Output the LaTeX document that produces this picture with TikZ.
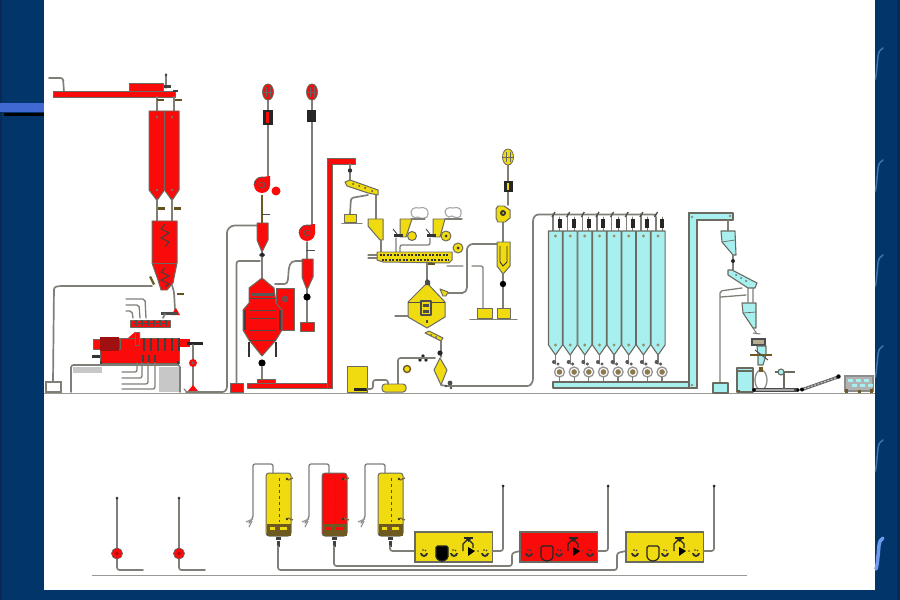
\documentclass[tikz,border=0pt]{standalone}
\usetikzlibrary{shapes.geometric,calc}
\definecolor{navy}{HTML}{02366B}
\definecolor{navyd}{HTML}{0A2A55}
\definecolor{bandblue}{HTML}{4169D2}
\definecolor{pipegray}{HTML}{7F7F78}
\definecolor{edgegray}{HTML}{6A6A60}
\definecolor{plantred}{HTML}{FB0A0A}
\definecolor{plantyel}{HTML}{F0DA10}
\definecolor{plantcya}{HTML}{A8F0F0}
\definecolor{darkred}{HTML}{A01010}
\definecolor{mud}{HTML}{6E5A20}
\definecolor{swoosh}{HTML}{3F73AD}
\definecolor{swooshb}{HTML}{6F9BEF}
\tikzset{
 pipeline/.style={draw=pipegray,line width=1.7pt,rounded corners=2.5,line cap=round},
 finepipe/.style={draw=pipegray,line width=1.3pt,rounded corners=2,line cap=round},
 floorline/.style={draw=pipegray!80,line width=1.8pt},
 redpart/.style={fill=plantred,draw=edgegray,line width=1pt,line join=round},
 yelpart/.style={fill=plantyel,draw=edgegray,line width=1pt,line join=round},
 cyapart/.style={fill=plantcya,draw=edgegray,line width=1.1pt,line join=round},
 blackpart/.style={fill=black!85},
 markpart/.style={fill=mud!90!black},
 cloudpart/.style={fill=white,draw=gray!70,line width=1.1pt},
 greypart/.style={fill=black!22},
 swooshline/.style={draw=swoosh,line width=1.5pt,line cap=round},
}
\newcommand{\hmark}[2]{\fill[markpart] (#1-3.5,#2-1.2) rectangle (#1+3.5,#2+1.2);}
\newcommand{\tinyarc}[2]{\fill[black!80] (#1-4,#2+2) arc[start angle=180,end angle=0,radius=4] -- (#1+2,#2+2) arc[start angle=0,end angle=180,radius=2] -- cycle; \fill[black!80] (#1-1,#2-1) circle (.8); \fill[black!80] (#1+1.5,#2-.5) circle (.8);}
\newcommand{\fanunit}[3]{\draw[fill=#3,draw=edgegray,line width=.8pt] (#1,#2) ellipse (5.5 and 8); \draw[black!60,line width=.6pt] (#1-2,#2-5)--(#1-2,#2+5) (#1+2,#2-5)--(#1+2,#2+5) (#1-5,#2)--(#1+5,#2);}
\newcommand{\redfan}[2]{\fill[plantred] (#1,#2) circle (8); \fill[plantred] (#1,#2-8) -- (#1+8,#2-9) -- (#1+8,#2) -- cycle; \draw[black!65,line width=.8pt] (#1,#2) circle (3) (#1-8,#2) arc[start angle=180,end angle=300,radius=8];}
\begin{document}
\begin{tikzpicture}[x=1bp,y=-1bp]
\useasboundingbox (0,0) rectangle (900,600);
% frame
\fill[navy] (0,0) rectangle (900,600);
\fill[navyd] (0,0) rectangle (2,600);
\fill[navyd] (897,0) rectangle (900,600);
\fill[white] (43.5,0) rectangle (875,590);
\fill[bandblue] (0,103) rectangle (43.5,112);
\fill[black] (4,113) rectangle (43.5,116);
\foreach \yy in {48,160,255,346,440}{
 \draw[swooshline] (883,\yy) .. controls (877,\yy+2) and (878,\yy+12) .. (877,\yy+18) .. controls (876.5,\yy+24) and (876,\yy+28) .. (875.5,\yy+31);
}
\draw[swooshb,line width=3.5pt,line cap=round] (883,538) .. controls (878,540) and (879,550) .. (878,556) .. controls (877.5,562) and (877,566) .. (876,569);
% floors
\draw[floorline] (44,393.5) -- (875,393.5);
\draw[floorline] (92,575.5) -- (747,575.5);

%%%%% LEFT RED LINE
\draw[pipeline] (49,78) -- (63,78) -- (64,92);
\draw[redpart] (53,92) rectangle (175,97);
\draw[redpart] (129,84) rectangle (163,92);
\draw[finepipe] (166,74) -- (166,88);
\fill[black!75] (166,75) circle (1.4);
\fill[black!75] (164,85) rectangle (171,88);
\fill[black!75] (173,90) rectangle (178,92);
\draw[pipeline] (157,97) -- (157,111) (174,97) -- (174,111);
\hmark{160}{100}\hmark{178}{100}
\draw[redpart] (149,111) -- (164.5,111) -- (164.5,190) -- (157,200.5) -- (149,190) -- cycle;
\draw[redpart] (164.5,111) -- (179,111) -- (179,190) -- (172,200.5) -- (164.5,190) -- cycle;
\foreach \xx in {157,172}{\fill[black!55] (\xx,117) circle (1.4); \fill[black!55] (\xx,190) circle (1.4);}
\draw[pipeline] (157,200) -- (157,221) (172,200) -- (172,221);
\hmark{161}{208.5}\hmark{177}{208.5}
\draw[redpart] (152,221) -- (177,221) -- (177,263) -- (173,283) -- (167,290) -- (161,290) -- (158,280) -- (152,263) -- cycle;
\draw[edgegray,line width=.8pt] (152,263) -- (177,263);
\draw[black!75,line width=1pt] (165,224) -- (161,229) -- (169,233) -- (161,238) -- (169,242) -- (165,247) (165,268) -- (161,272) -- (169,276) -- (161,280) -- (169,284) -- (165,287);
\draw[pipeline] (152,286) -- (60,286) -- (54,287) -- (53,382);
\fill[mud] (149,277) -- (151,276) -- (155,284) -- (153,285) -- cycle;
\draw[fill=white,draw=pipegray,line width=1.3pt] (46,382) rectangle (61,392);
\draw[pipeline] (172,285) -- (174,292) -- (175,310);
\hmark{180}{294}
\fill[plantred] (171,315) -- (176,308) -- (180,315) -- cycle;
\fill[black!70] (161,312) rectangle (178,315);
% feed screw
\draw[finepipe] (126,299) -- (145,299) -- (146,318) (126,305) -- (139,305) -- (140,318) (126,311) -- (132,311) -- (133,318);
\draw[redpart] (130,320) rectangle (170,327);
\draw[black!70,line width=1pt] (133,323.5) -- (168,323.5);
\foreach \xx in {135,141,...,165}{\fill[black!70] (\xx,320) rectangle (\xx+1.5,326);}
\draw[pipeline] (163,318) -- (165,314);
% extruder
\draw[redpart] (100,338) rectangle (179,363);
\fill[plantred] (128,338) -- (135,332) -- (140,332) -- (140,338) -- cycle;
\draw[redpart] (135,332) rectangle (139,345);
\draw[redpart] (93,339) rectangle (120,349);
\fill[darkred] (100,337) rectangle (119,351);
\fill[plantred] (177,339) rectangle (190,347);
\fill[black!80] (92,355) rectangle (100,358);
\foreach \xx in {143,150,...,178}{\fill[black!75] (\xx,338) rectangle (\xx+2.3,351);}
\foreach \xx in {142,148,154}{\fill[black!75] (\xx,355) rectangle (\xx+1.8,362);}
\fill[black!85] (187,342) rectangle (203,345);
\fill[black!75] (100,361) rectangle (102,365);
\fill[black!75] (177,361) rectangle (179,365);
\draw[finepipe] (122,372) -- (137,372) -- (137,363) (122,378) -- (142,378) -- (142,363) (122,384) -- (148,384) -- (148,363) (122,389) -- (155,389) -- (155,363);
% base
\fill[greypart] (73,367) rectangle (102,373);
\fill[greypart] (159,367) rectangle (179,392);
\draw[pipeline] (71,392) -- (71,365) -- (180,365) -- (180,392);
% right pipe
\draw[pipeline] (193,345) -- (193,386);
\fill[plantred] (193,363) circle (4); \fill[black!60] (193,363) circle (1.6);
\fill[plantred] (188,391) -- (193,385) -- (198,391) -- cycle;
\draw[finepipe] (184,389) -- (186,391);

%%%%% MIDDLE RED LINE
\draw[pipeline] (186,392) -- (220,392) .. controls (226,392) and (227,388) .. (227,384) -- (227,235) .. controls (227,229) and (231,225.5) .. (237,225.5) -- (257,225.5);
\draw[pipeline] (236.5,384) -- (236.5,261) -- (260,261);
\draw[pipeline] (268,100) -- (268,176) (312,100) -- (312,226);
\fanunit{268}{92}{plantred}\fanunit{312}{92}{plantred}
\fill[blackpart] (263,110) rectangle (273,125);
\fill[blackpart] (307,110) rectangle (316,122);
\fill[plantred] (266,112) rectangle (269,123);
\redfan{262}{185}
\fill[plantred] (276,191) circle (4.5);
\draw[draw=mud,line width=1.4pt] (262,195) -- (262,224);
\draw[redpart] (257,223) -- (268,223) -- (268,240) -- (262,252) -- (257,240) -- cycle;
\draw[black!70,line width=.7pt] (261,214) -- (270,214);
\fill[blackpart] (259,255) -- (262,252) -- (265,255) -- (262,258) -- cycle;
\draw[finepipe] (262,257) -- (262,278);
% dryer
\draw[redpart] (276,288) rectangle (294,330);
\fill[black!65] (285,299) circle (3.2); \fill[plantred] (285,299) circle (1.2);
\draw[redpart] (262,278) -- (274,288) -- (276,303) -- (282,310) -- (282,330) -- (276,340) -- (262,356) -- (249,340) -- (243,330) -- (243,310) -- (249,303) -- (249,288) -- cycle;
\foreach \yy in {298,310,318,330,340}{\draw[black!70,line width=.7pt] (249,\yy) -- (276,\yy);}
\fill[black!65] (251,293) rectangle (273,296);
\fill[black!75] (244,310) rectangle (246,330);
\fill[black!75] (279,310) rectangle (281,330);
\fill[black!80] (248,342) rectangle (250,357);
\fill[black!80] (275,342) rectangle (277,357);
\fill[black] (262,363) circle (3.6);
\draw[pipeline] (262,367) -- (262,380);
\draw[pipeline] (275,284) -- (282,284) .. controls (292,284) and (284,261) .. (298,261) -- (302,261);
% cyclone 2
\redfan{307}{233}
\draw[pipeline] (307,242) -- (307,259);
\draw[black!70,line width=.7pt] (306,250) -- (315,250);
\draw[redpart] (302,259) -- (313,259) -- (313,277) -- (307,290) -- (302,277) -- cycle;
\draw[pipeline] (307,290) -- (307,322);
\fill[black] (307,297) circle (3.6);
\draw[redpart] (300,322) -- (314,322) -- (314,331) -- (300,331) -- cycle;
\draw[redpart] (230,383) rectangle (243,392);
\draw[redpart] (257,379) rectangle (275,384);
\draw[redpart] (247,383) rectangle (332,388);
\draw[redpart] (327,158) rectangle (332,388);
\draw[redpart] (327,158) rectangle (355,164);
\fill[plantred] (327.5,159) rectangle (331.5,387);
\fill[black!65] (329,162) circle (1);
\fill[black!65] (329,385) circle (1);
\fill[black!65] (250,385.5) circle (1);

%%%%% YELLOW LINE
\draw[finepipe] (350,164) -- (350,181);
\fill[black!80] (350,170.5) circle (2.2);
\draw[yelpart] (345,182) -- (350,180) -- (378,190) -- (378,195) -- (368,193) -- (347,186) -- cycle;
\foreach \xx/\yy in {353/184,359/186,365/188,372/191}{\fill[black!70] (\xx,\yy) circle (1);}
\draw[pipeline] (368,195) -- (351,198) -- (350,214);
\draw[yelpart] (344,214) rectangle (356,222);
\draw[finepipe] (342,223.5) -- (362,223.5);
\draw[pipeline] (376,195) -- (376,219);
\draw[yelpart] (368,219) -- (383,219) -- (383,240) -- (380,240) -- (368,226) -- cycle;
\draw[finepipe] (381,240) -- (381,252);
% hoppers and clouds
\draw[yelpart] (400,219) -- (412,219) -- (406,237) -- (400,237) -- cycle;
\draw[yelpart] (433,219) -- (445,219) -- (440,237) -- (433,237) -- cycle;
\fill[black!80] (394,234) rectangle (403,237);
\fill[black!80] (427,234) rectangle (436,237);
\draw[black!70,line width=.9pt] (393,229) -- (397,234) (426,229) -- (430,234);
\draw[cloudpart] (412,216) .. controls (409,208) and (415,207) .. (419,208) .. controls (425,206) and (429,210) .. (428,214) .. controls (429,219) and (420,219) .. (418,217) .. controls (416,218) and (413,218) .. (412,216) -- cycle;
\draw[cloudpart] (446,215) .. controls (443,208) and (449,207) .. (453,208) .. controls (459,206) and (462,210) .. (461,213) .. controls (462,219) and (455,218) .. (452,216) .. controls (450,218) and (447,217) .. (446,215) -- cycle;
\draw[finepipe] (411,219) -- (425,219) (445,219) -- (462,219);
\draw[yelpart] (412,236) circle (4.5);
\draw[yelpart] (446,236) circle (5); \fill[black!80] (446,236) circle (1.5);
\draw[yelpart] (458,248) circle (5); \fill[black!80] (458,248) circle (1.5);
\draw[finepipe] (396,238) -- (396,252) (400,252) -- (400,245) -- (430,245) -- (430,238);
% screw
\draw[finepipe] (368,255) -- (378,255) (368,258) -- (378,258);
\draw[yelpart] (377,252) -- (452,252) -- (452,260) -- (449,263) -- (383,262) -- (377,260) -- cycle;
\draw[black!80,line width=1.2pt,dash pattern=on 2pt off 1.5pt] (380,255) -- (449,255) (382,260) -- (449,260);
\draw[pipeline] (427,262) -- (427,283);
\hmark{431}{264}
\draw[finepipe] (447,266) -- (463,266) (472,266) -- (483,266) -- (483,308);
% cooler
\draw[yelpart] (427,283) -- (445,302) -- (445,317) -- (427,328) -- (408,317) -- (408,302) -- cycle;
\draw[yelpart] (440,289) -- (448,292) -- (446,296) -- (443,296) -- cycle;
\fill[black!70] (425,281) -- (427,279) -- (430,281) -- (430,285) -- (425,285) -- cycle;
\draw[black!70,line width=.9pt] (408,302) -- (421,302) (431,302) -- (445,302);
\draw[yelpart,draw=black!70,line width=1.2pt] (421,301) rectangle (431,315);
\fill[black!70] (423,304) rectangle (429,307);
\fill[black!70] (423,310) rectangle (429,313);
\fill[black!70] (425.5,320) rectangle (427.5,323);
\draw[finepipe] (395,316) -- (408,316);
\draw[pipeline] (448,293) -- (460,293) .. controls (465,293) and (467,290) .. (467,285) -- (467,252) .. controls (467,247) and (470,244) .. (475,244) -- (497,244);
\draw[yelpart] (425,333) -- (429,331) -- (443,338) -- (441,341) -- cycle;
\fill[black!60] (431,335) circle (1);
\fill[black!60] (436,337) circle (1);
\draw[pipeline] (441,341) -- (441,357);
\fill[black!85] (440,353) circle (2.6);
\foreach \xx/\yy in {423/356,420/360,426/360}{\fill[black!85] (\xx,\yy) circle (1.8);}
% fan and cyclone
\draw[pipeline] (508,165) -- (508,205) (503,222) -- (503,242);
\fanunit{508}{157}{plantyel}
\fill[blackpart] (504,181) rectangle (513,192);
\fill[plantyel] (507,183) rectangle (509,190);
\draw[yelpart] (498,206) -- (504,206) -- (510,210) -- (510,218) -- (505,222) -- (498,222) -- (496,218) -- (496,209) -- cycle;
\fill[black!80] (503,213) circle (3); \fill[plantyel] (503,213) circle (1);
\draw[yelpart] (497,242) -- (510,242) -- (510,266) -- (503,274) -- (497,266) -- cycle;
\draw[black!80,line width=.9pt] (500,246) -- (500,262) -- (503,266) -- (507,262) -- (507,246);
\draw[pipeline] (503,274) -- (503,308);
\fill[black] (503,284) circle (3.2);
\draw[yelpart] (477,308) rectangle (492,318);
\draw[yelpart] (497,308) rectangle (510,318);
\draw[finepipe] (470,319.5) -- (517,319.5);
% separator and bottom
\draw[pipeline] (398,385) -- (398,358) -- (435,358);
\draw[yelpart] (440,358) -- (447,370) -- (441,385) -- (434,370) -- cycle;
\draw[draw=mud,fill=plantyel,line width=1.4pt] (407,369) circle (3.5);
\draw[yelpart] (347,366) rectangle (367,392);
\fill[black!85] (354,388) rectangle (367,391);
\draw[yelpart,rounded corners=3] (382,384) rectangle (406,392);
\draw[pipeline] (367,389) -- (373,389) -- (373,380) -- (388,380) -- (388,384);
\draw[pipeline] (441,385) -- (446,386) -- (525,386) .. controls (531,386) and (533,382) .. (533,376) -- (533,224) .. controls (533,218) and (535,214.5) .. (541,214.5) -- (651,214.5) .. controls (655,214.5) and (656,216) .. (656,220) -- (656,231);
\fill[black!70] (450,383) circle (2.4);
\fill[black!70] (451,388) circle (1.4);
\fill[black!70] (446,386) circle (1.4);

%%%%% CYAN SILOS
\foreach \k in {0,...,7}{
 \pgfmathsetmacro{\xa}{548.5+14.65*\k}
 \pgfmathsetmacro{\xc}{\xa+7}
 \pgfmathsetmacro{\xb}{\xa+14}
 \pgfmathsetmacro{\xf}{\xa+11}
 \pgfmathsetmacro{\xp}{\xa+4.5}
 \draw[finepipe] (\xp,214) -- (\xp,231);
 \draw[black!70,line width=1.3pt] (\xp-1,217) -- (\xp+2,212);
 \draw[finepipe,line width=1pt] (\xf,217) -- (\xf,231);
 \fill[black!85] (\xf-2,219) rectangle (\xf+2,228);
 \draw[cyapart] (\xa,231) -- (\xb,231) -- (\xb,345) -- (\xc,355) -- (\xa,345) -- cycle;
 \fill[mud!70] (\xc,236) circle (1.6);
 \fill[mud!70] (\xc,345) circle (1.6);
 \draw[finepipe] (\xc,355) -- (\xc,364);
 \fill[black!65] (\xc-1.5,362) circle (2);
 \fill[black!65] (\xc+2.5,364) circle (1.7);
 \draw[gray!85,line width=1.3pt,fill=white] (\xc+4,372) circle (5);
 \fill[mud!80] (\xc+4,372) circle (2.8);
 \draw[finepipe] (\xc+4,377) -- (\xc+4,382);
}
\draw[cyapart] (553,382) rectangle (697,388);
\draw[cyapart] (689,213) rectangle (697,388);
\draw[cyapart] (689,213) rectangle (733,220);
\fill[plantcya] (689.6,214) rectangle (696.4,387);
\fill[black!45] (692,217) circle (1.4);
\fill[black!45] (730,216) circle (1.4);
\fill[black!45] (692,385) circle (1.4);
% right part
\draw[finepipe] (728,220) -- (728,231);
\draw[cyapart] (721,231) -- (735,231) -- (736,255) -- (733,255) -- (722,242) -- cycle;
\draw[edgegray,line width=.7pt] (722,242) -- (735,240);
\draw[finepipe] (733,255) -- (733,270);
\fill[blackpart] (733,261) circle (2);
\draw[cyapart] (728,270) -- (732,270) -- (757,283) -- (755,288) -- (748,288) -- (728,275) -- cycle;
\foreach \xx/\yy in {736/275,741/278,746/281}{\fill[black!60] (\xx,\yy) circle (1);}
\draw[finepipe] (742,288) -- (720,291) -- (720,382) (746,295) -- (721,297) (748,288) -- (748,302) (753,288) -- (753,302);
\draw[cyapart] (742,303) -- (756,303) -- (756,328) -- (753,328) -- (743,313) -- cycle;
\draw[edgegray,line width=.7pt] (743,313) -- (756,312);
\draw[finepipe,line width=1pt] (753,328) -- (757,334) (753,333) -- (760,334);
\draw[cyapart] (713,383) rectangle (728,393);
\draw[fill=mud!50,draw=black!70,line width=1.1pt] (752,339) rectangle (765,345);
\draw[cyapart] (757,346) -- (766,346) -- (766,355) -- (763,365) -- (758,365) -- (758,355) -- cycle;
\draw[draw=mud,line width=1.4pt] (750,355) -- (772,355);
\draw[black!70,line width=1pt] (755,350) -- (768,360);
\draw[cyapart] (737,368) rectangle (753,392);
\draw[edgegray,line width=1.3pt] (737,371) -- (753,371);
\fill[mud] (737,390) rectangle (740,392);
\draw[draw=gray!90,line width=1.3pt] (761,380) ellipse (6 and 10);
\fill[mud] (759,367) rectangle (763,372);
\fill[black!70] (752,388) rectangle (798,392);
\fill[black!35] (756,389) rectangle (794,391);
\fill[black] (754,390) circle (1.8);
\fill[black] (798,390) circle (1.8);
\draw[draw=edgegray,line width=1.8pt] (784,372) -- (784,389);
\draw[draw=edgegray,line width=1.3pt] (775,372) -- (795,372);
\draw[cyapart] (781,372) ellipse (3 and 3);
\draw[draw=black!60,line width=3pt] (801,390) -- (838,377);
\draw[draw=black!20,line width=1pt,dash pattern=on 2pt off 1.5pt] (801,390) -- (838,377);
\fill[black] (802,389.5) circle (2);
\fill[black] (838.5,376.5) circle (2.2);
\draw[fill=black!30,draw=black!45,line width=1.3pt] (845,376) rectangle (873,391);
\foreach \xx/\yy in {848/379,856/379,864/379,852/384,860/384,868/384}{\fill[plantcya] (\xx,\yy) rectangle (\xx+5,\yy+2.5);}
\fill[mud] (845,389) rectangle (848,393);
\fill[mud] (858,390) rectangle (861,393);
\fill[mud] (870,389) rectangle (873,393);

%%%%% BOTTOM
\foreach \xx/\xend in {117/143,179/205}{
 \draw[pipeline] (\xx,498) -- (\xx,570) -- (\xend,570);
 \fill[black!80] (\xx,498) circle (1.5);
 \fill[plantred,draw=black!60,line width=.7pt] (\xx,553.5) circle (5.5);
 \fill[darkred] (\xx,553.5) circle (1.8);
}
\foreach \xa/\cc/\dd in {266/plantyel/mud,322/plantred/mud,378/plantyel/mud}{
 \draw[yelpart,fill=\cc,rounded corners=3] (\xa,473) rectangle (\xa+25,536);
 \fill[\dd] (\xa+.5,524) rectangle (\xa+24.5,535.5);
 \fill[\cc] (\xa+4,527) rectangle (\xa+9,530);
 \fill[\cc] (\xa+14,527) rectangle (\xa+21,530);
 \draw[black!70,line width=.7pt,dashed] (\xa+13,478) -- (\xa+13,522);
 \draw[finepipe] (\xa+7,473) -- (\xa+7,464) -- (\xa-13,464) -- (\xa-13,518) -- (\xa-17,523);
 \draw[gray!80,line width=1.3pt] (\xa-20,522) -- (\xa-13,519) (\xa-17,527) -- (\xa-14,521);
 \fill[black!80] (\xa+21,479) circle (1.4);
 \fill[black!80] (\xa+21,519) circle (1.4);
 \draw[mud!90,line width=1.3pt] (\xa+22,480) -- (\xa+27,478) (\xa+22,518) -- (\xa+27,520);
 \fill[black!75] (\xa+10,537) rectangle (\xa+15,540);
 \fill[black!75] (\xa+11,541) rectangle (\xa+14,547);
}
\draw[pipeline] (278,546) -- (278,570) -- (617,570) -- (617,553) -- (626,551);
\draw[pipeline] (334,546) -- (334,566) -- (512,566) -- (512,553) -- (520,551);
\draw[pipeline] (390,546) -- (390,551) -- (415,551);
\foreach \bx/\cc/\hh in {415/plantyel/black,520/plantred/plantred,626/plantyel/plantyel}{
 \draw[fill=\cc,draw=edgegray,line width=1.3pt] (\bx,532) rectangle (\bx+77.5,562);
 \draw[pipeline] (\bx+77.5,551) -- (\bx+88,551) -- (\bx+88,486);
 \fill[black!85] (\bx+88,486) circle (1.5);
 \tinyarc{\bx+9}{551}\tinyarc{\bx+39}{551}\tinyarc{\bx+70}{551}
 \draw[fill=\hh,draw=black!85,line width=1.2pt,rounded corners=1.5] (\bx+21,546) -- (\bx+33,546) -- (\bx+33,558) -- (\bx+29,561) -- (\bx+25,561) -- (\bx+21,558) -- cycle;
 \fill[black] (\bx+53,547) -- (\bx+60,551) -- (\bx+53,556) -- cycle;
 \draw[black!85,line width=1.1pt] (\bx+48,551) -- (\bx+48,544) -- (\bx+53,539) -- (\bx+58,544) -- (\bx+58,548);
 \fill[black!85] (\bx+49,536.5) rectangle (\bx+58,538.5);
 \fill[black!85] (\bx+51,539) -- (\bx+56,539) -- (\bx+53.5,542) -- cycle;
 \fill[black!70] (\bx+63,551) circle (.9);
}
\end{tikzpicture}
\end{document}
